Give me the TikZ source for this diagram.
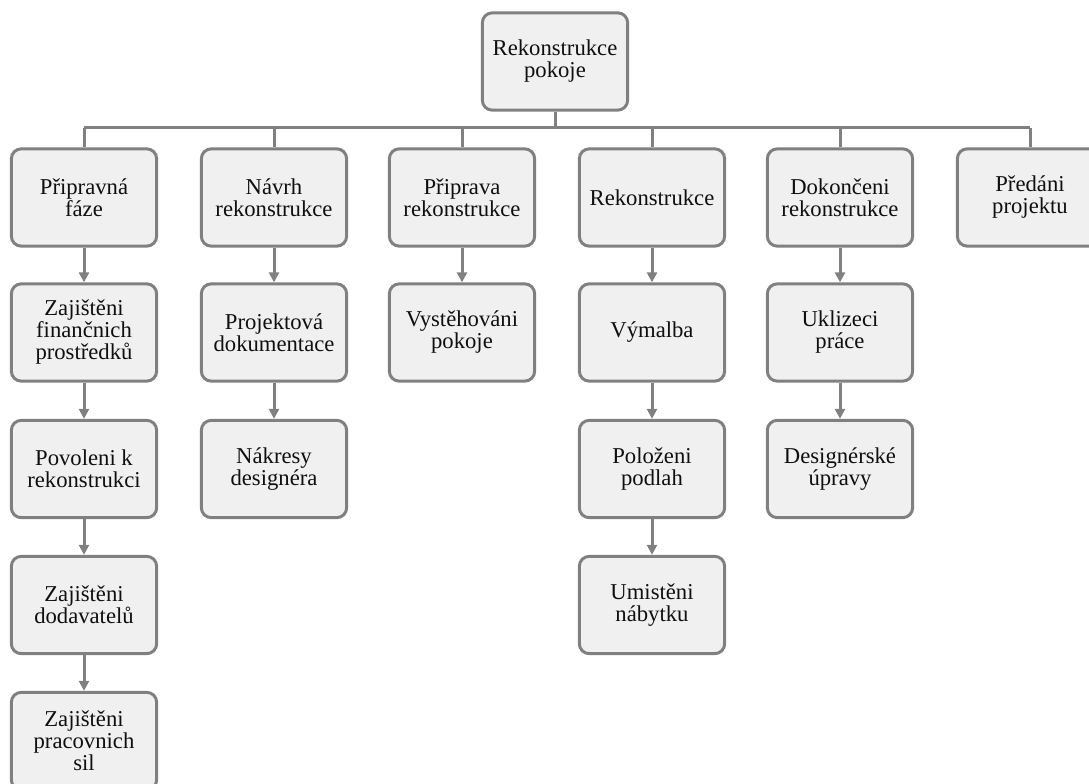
\documentclass[tikz,border=0pt]{standalone}
\usepackage{fontspec}
\setmainfont{Liberation Serif}
\usepackage{tikz}
\usetikzlibrary{arrows.meta}

\definecolor{boxfill}{RGB}{240,240,240}
\definecolor{boxline}{RGB}{128,128,128}
\definecolor{boxtext}{RGB}{15,15,15}

\tikzset{
  task/.style={draw=boxline, fill=boxfill, line width=2.25pt, rounded corners=7.5pt,
    minimum width=109pt, minimum height=73pt, inner sep=0pt, align=center,
    text=boxtext, font=\fontsize{17pt}{16.5pt}\selectfont},
  link/.style={draw=boxline, line width=2.25pt},
  step arrow/.style={link, -{Triangle[length=7.5pt,width=7.5pt]}}
}

\begin{document}
\begin{tikzpicture}[x=0.75pt,y=0.75pt,yscale=-1,xscale=1]
\useasboundingbox (0,0) rectangle (1089,784);

% Root
\node[task] (root) at (555,61.5) {Rekonstrukce\\pokoje};

% First level
\node[task] (prep) at (84,197.5) {Připravná\\fáze};
\node[task] (navrh) at (274,197.5) {Návrh\\rekonstrukce};
\node[task] (pripr) at (462,197.5) {Připrava\\rekonstrukce};
\node[task] (rekon) at (652,197.5) {Rekonstrukce};
\node[task] (dokon) at (840,197.5) {Dokončeni\\rekonstrukce};
\node[task] (predani) at (1030,197.5) {Předáni\\projektu};

% Column 1
\node[task] (financ) at (84,332.5) {Zajištěni\\finančnich\\prostředků};
\node[task] (povol) at (84,469) {Povoleni k\\rekonstrukci};
\node[task] (dodav) at (84,605) {Zajištěni\\dodavatelů};
\node[task] (pracov) at (84,741) {Zajištěni\\pracovnich\\sil};

% Column 2
\node[task] (projdok) at (274,332.5) {Projektová\\dokumentace};
\node[task] (nakres) at (274,469) {Nákresy\\designéra};

% Column 3
\node[task] (vystek) at (462,332.5) {Vystěhováni\\pokoje};

% Column 4
\node[task] (vymalba) at (652,332.5) {Výmalba};
\node[task] (podlah) at (652,469) {Položeni\\podlah};
\node[task] (nabytek) at (652,605) {Umistěni\\nábytku};

% Column 5
\node[task] (uklid) at (840,332.5) {Uklizeci\\práce};
\node[task] (upravy) at (840,469) {Designérské\\úpravy};

% Bus line
\coordinate (busL) at (84,128);
\coordinate (busR) at (1030,128);
\draw[link] (busL) -- (busR);
\draw[link] (root.south) -- (root.south |- busL);
\foreach \n in {prep,navrh,pripr,rekon,dokon,predani}
  \draw[link] (\n.north |- busL) -- (\n.north);

% Arrows down the columns
\draw[step arrow] (prep) -- (financ);
\draw[step arrow] (financ) -- (povol);
\draw[step arrow] (povol) -- (dodav);
\draw[step arrow] (dodav) -- (pracov);
\draw[step arrow] (navrh) -- (projdok);
\draw[step arrow] (projdok) -- (nakres);
\draw[step arrow] (pripr) -- (vystek);
\draw[step arrow] (rekon) -- (vymalba);
\draw[step arrow] (vymalba) -- (podlah);
\draw[step arrow] (podlah) -- (nabytek);
\draw[step arrow] (dokon) -- (uklid);
\draw[step arrow] (uklid) -- (upravy);

\end{tikzpicture}
\end{document}
